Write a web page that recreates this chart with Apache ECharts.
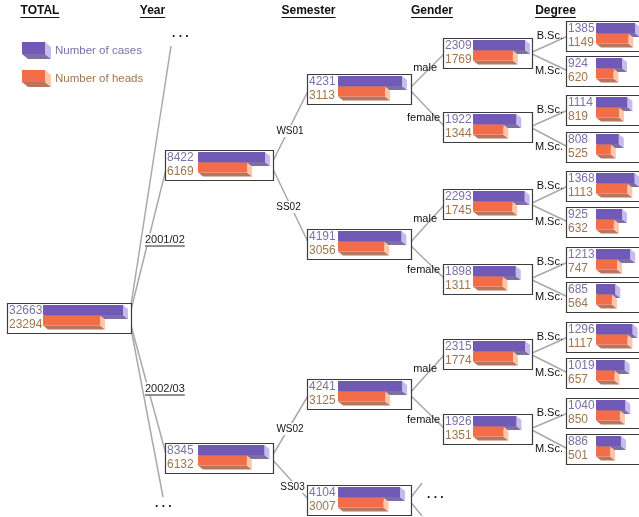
<!DOCTYPE html>
<html><head><meta charset="utf-8">
<script src="https://cdn.jsdelivr.net/npm/echarts@6/dist/echarts.min.js"></script>
<style>html,body{margin:0;padding:0;background:#fff}#c{width:639px;height:517px}</style>
</head><body><div id="c"></div>
<script>
// ---------- data ----------
const levelTitles = ['TOTAL', 'Year', 'Semester', 'Gender', 'Degree'];
const measureNames = ['Number of cases', 'Number of heads'];
const totalNames = ['TOTAL'];
const totalCases = [32663];
const totalHeads = [23294];
const yearNames = ['2001/02', '2002/03'];
const yearCases = [8422, 8345];
const yearHeads = [6169, 6132];
const semesterNames = ['WS01', 'SS02', 'WS02', 'SS03'];
const semesterCases = [4231, 4191, 4241, 4104];
const semesterHeads = [3113, 3056, 3125, 3007];
const genderNames = ['male', 'female', 'male', 'female', 'male', 'female'];
const genderCases = [2309, 1922, 2293, 1898, 2315, 1926];
const genderHeads = [1769, 1344, 1745, 1311, 1774, 1351];
const degreeNames = ['B.Sc.', 'M.Sc.', 'B.Sc.', 'M.Sc.', 'B.Sc.', 'M.Sc.', 'B.Sc.', 'M.Sc.', 'B.Sc.', 'M.Sc.', 'B.Sc.', 'M.Sc.'];
const degreeCases = [1385, 924, 1114, 808, 1368, 925, 1213, 685, 1296, 1019, 1040, 886];
const degreeHeads = [1149, 620, 819, 525, 1113, 632, 747, 564, 1117, 657, 850, 501];
const semesterParent = [0, 0, 1, 1];
const genderParent = [0, 0, 1, 1, 2, 2];
const degreeParent = [0, 0, 1, 1, 2, 2, 3, 3, 4, 4, 5, 5];

// ---------- layout / style ----------
const FONT = '"Liberation Sans", Arial, sans-serif';
const boxLeft = [7, 165, 307, 443, 566];
const boxWidth = [124, 108, 104, 89, 84];
const barLeft = [43, 198, 338, 473, 596];
const textLeft = [9, 167, 309, 445, 568];
const barSpan = [80, 80, 80, 80, 40];
const axisMax = [32663, 10050, 5290, 3550, 1420];
const boxH = 30;
const boxTop = [[303], [150, 443], [74, 229, 379, 485], [38, 112, 189, 264, 339, 414],
  [21, 56, 95, 132, 171, 207, 247, 282, 322, 358, 398, 434]];
const headerX = [40, 152.5, 308.5, 432, 555.5];
const headerY = 11;
const palette = [
  {front: '#7159b6', side: '#c6bbee', bottom: '#7d6ea6', text: '#7a72a8', textDy: 0},
  {front: '#f36d48', side: '#ffc6a8', bottom: '#b8765f', text: '#a0764f', textDy: 4}
];
const lineColor = '#a9a9a9';

const levels = [
  {names: totalNames, cases: totalCases, heads: totalHeads, parent: null},
  {names: yearNames, cases: yearCases, heads: yearHeads, parent: [0, 0]},
  {names: semesterNames, cases: semesterCases, heads: semesterHeads, parent: semesterParent},
  {names: genderNames, cases: genderCases, heads: genderHeads, parent: genderParent},
  {names: degreeNames, cases: degreeCases, heads: degreeHeads, parent: degreeParent}
];

const mctx = document.createElement('canvas').getContext('2d');
function textW(t, font) { mctx.font = font; return mctx.measureText(t).width; }

function makeRender(level) {
  return function (params, api) {
    const idx = api.value(0), v = api.value(1);
    const s = api.coord([0, idx]);
    const e = api.coord([v, idx]);
    const band = api.size([0, 1])[1];
    const h = band - 0.5;
    const x0 = s[0], x1 = e[0], y0 = s[1] - band / 2, y1 = y0 + h;
    const c = palette[idx];
    const dx = 5, dy = 4;
    return {type: 'group', children: [
      {type: 'polygon', shape: {points: [[x0, y1], [x1, y1], [x1 + dx, y1 + dy], [x0 + dx, y1 + dy]]}, style: {fill: c.bottom}},
      {type: 'polygon', shape: {points: [[x1, y0], [x1 + dx, y0 + dy], [x1 + dx, y1 + dy], [x1, y1]]}, style: {fill: c.side}},
      {type: 'rect', shape: {x: x0, y: y0, width: x1 - x0, height: h}, style: {fill: c.front}},
      {type: 'text', x: textLeft[level], y: s[1] + c.textDy, style: {text: String(v), fill: c.text, font: '12px ' + FONT, verticalAlign: 'middle', align: 'left'}}
    ]};
  };
}

const grids = [], xAxes = [], yAxes = [], series = [], graphics = [];
levels.forEach((lv, L) => {
  lv.names.forEach((nm, i) => {
    const gi = grids.length;
    const top = boxTop[L][i];
    grids.push({left: barLeft[L], top: top + 2, width: barSpan[L], height: 21, outerBoundsMode: 'none', containLabel: false});
    xAxes.push({gridIndex: gi, type: 'value', min: 0, max: axisMax[L], show: false});
    yAxes.push({gridIndex: gi, type: 'category', data: measureNames, inverse: true, show: false});
    series.push({type: 'custom', xAxisIndex: gi, yAxisIndex: gi, z: 3, clip: false,
      renderItem: makeRender(L), encode: {x: 1, y: 0},
      data: [[0, lv.cases[i]], [1, lv.heads[i]]]});
    graphics.push({type: 'rect', z: 2, shape: {x: boxLeft[L] + 0.5, y: top + 0.5, width: boxWidth[L], height: boxH},
      style: {fill: '#fff', stroke: '#3c3c3c', lineWidth: 1.2}});
    if (lv.parent) {
      const p = lv.parent[i];
      const px = boxLeft[L - 1] + boxWidth[L - 1] - 2, py = boxTop[L - 1][p] + boxH / 2;
      graphics.push({type: 'line', z: 1, shape: {x1: px, y1: py, x2: boxLeft[L] + 2, y2: top + boxH / 2},
        style: {stroke: lineColor, lineWidth: 1.5}});
    }
  });
});

// extra connectors to collapsed branches
const tMid = boxTop[0][0] + boxH / 2, tRight = boxLeft[0] + boxWidth[0] - 2;
const s3Mid = boxTop[2][3] + boxH / 2, s3Right = boxLeft[2] + boxWidth[2] - 2;
[[tRight, tMid, 171, 46], [tRight, tMid, 163, 497], [s3Right, s3Mid, 422, 483], [s3Right, s3Mid, 422, 516]].forEach(l => {
  graphics.push({type: 'line', z: 1, shape: {x1: l[0], y1: l[1], x2: l[2], y2: l[3]}, style: {stroke: lineColor, lineWidth: 1.5}});
});
[[172, 34], [155, 504], [427, 495]].forEach(d => {
  graphics.push({type: 'text', z: 5, x: d[0], y: d[1], style: {text: '. . .', font: 'bold 12px ' + FONT, fill: '#111', verticalAlign: 'middle'}});
});

// headers with underline
levelTitles.forEach((t, i) => {
  const f = 'bold 12px ' + FONT;
  const w = textW(t, f);
  graphics.push({type: 'text', z: 5, x: headerX[i], y: headerY, style: {text: t, font: f, fill: '#111', align: 'center', verticalAlign: 'middle'}});
  graphics.push({type: 'line', z: 5, shape: {x1: headerX[i] - w / 2, y1: headerY + 6.5, x2: headerX[i] + w / 2, y2: headerY + 6.5}, style: {stroke: '#111', lineWidth: 1}});
});

// year edge labels (underlined)
const yearLabelPos = [[145, 240], [145, 389]];
yearNames.forEach((t, i) => {
  const f = '11px ' + FONT;
  const w = textW(t, f);
  const [x, y] = yearLabelPos[i];
  graphics.push({type: 'text', z: 5, x: x, y: y, style: {text: t, font: f, fill: '#222', verticalAlign: 'middle', backgroundColor: '#fff', padding: [1, 0]}});
  graphics.push({type: 'line', z: 6, shape: {x1: x, y1: y + 6, x2: x + w, y2: y + 6}, style: {stroke: '#222', lineWidth: 1}});
});
// semester edge labels
const semLabelPos = [[290, 131], [288.5, 207], [290, 429], [292.5, 487]];
semesterNames.forEach((t, i) => {
  graphics.push({type: 'text', z: 5, x: semLabelPos[i][0], y: semLabelPos[i][1],
    style: {text: t, font: '10px ' + FONT, fill: '#111', align: 'center', verticalAlign: 'middle', backgroundColor: '#fff', padding: [1, 1]}});
});
// gender edge labels
genderNames.forEach((t, i) => {
  const mid = boxTop[3][i] + boxH / 2;
  const male = (i % 2 === 0);
  graphics.push({type: 'text', z: 5, x: male ? 437 : 440, y: male ? mid + 15 : mid - 9,
    style: {text: t, font: '11px ' + FONT, fill: '#111', align: 'right', verticalAlign: 'middle'}});
});
// degree edge labels
degreeNames.forEach((t, i) => {
  const mid = boxTop[4][i] + boxH / 2;
  graphics.push({type: 'text', z: 5, x: 563, y: mid,
    style: {text: t, font: '11px ' + FONT, fill: '#111', align: 'right', verticalAlign: 'middle'}});
});

// legend (3D swatches)
const legendY = [42, 70];
measureNames.forEach((t, i) => {
  const c = palette[i];
  const x0 = 22, x1 = 45, y0 = legendY[i], y1 = y0 + 12, dx = 6, dy = 5;
  graphics.push({type: 'polygon', z: 5, shape: {points: [[x0, y1], [x1, y1], [x1 + dx, y1 + dy], [x0 + dx, y1 + dy]]}, style: {fill: c.bottom}});
  graphics.push({type: 'polygon', z: 5, shape: {points: [[x1, y0], [x1 + dx, y0 + dy], [x1 + dx, y1 + dy], [x1, y1]]}, style: {fill: c.side}});
  graphics.push({type: 'rect', z: 5, shape: {x: x0, y: y0, width: x1 - x0, height: y1 - y0}, style: {fill: c.front}});
  graphics.push({type: 'text', z: 5, x: 55, y: y0 + 9, style: {text: t, font: '11.5px ' + FONT, fill: c.text, verticalAlign: 'middle'}});
});

const chart = echarts.init(document.getElementById('c'), null, {renderer: 'canvas'});
chart.setOption({
  animation: false,
  backgroundColor: '#fff',
  grid: grids, xAxis: xAxes, yAxis: yAxes, series: series,
  graphic: {elements: graphics}
});
</script>
</body></html>
